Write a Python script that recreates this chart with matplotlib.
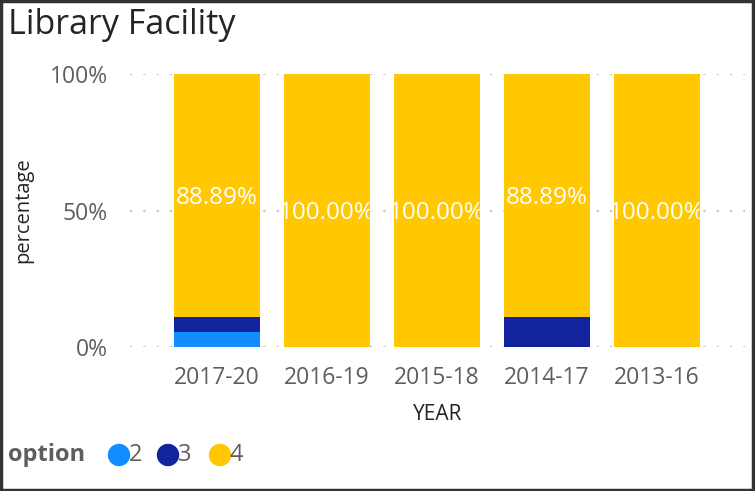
import matplotlib
matplotlib.use("Agg")
import matplotlib.pyplot as plt
from matplotlib.patches import Rectangle, Ellipse

# données (parts en %)
years = ["2017-20", "2016-19", "2015-18", "2014-17", "2013-16"]
opt2 = [5.56, 0, 0, 0, 0]
opt3 = [5.56, 0, 0, 11.11, 0]
opt4 = [88.89, 100.00, 100.00, 88.89, 100.00]
options = ["2", "3", "4"]
colors = ["#118DFF", "#12239E", "#FFC800"]

plt.rcParams["font.family"] = ["Open Sans", "DejaVu Sans"]

fig = plt.figure(figsize=(7.55, 4.91), dpi=100)
ax = fig.add_axes([130 / 755, 1 - 347 / 491, 615 / 755, 273 / 491])

x = list(range(len(years)))
w = 0.78
bottom = [0.0] * len(years)
for serie, col in zip([opt2, opt3, opt4], colors):
    bars = ax.bar(x, [v / 100 for v in serie], w, bottom=[b / 100 for b in bottom],
                  color=col, zorder=3)
    if serie is opt4:
        for i, (b, v) in enumerate(zip(bars, serie)):
            t = ax.text(i, (bottom[i] + v / 2) / 100 - 0.01, f"{v:.2f}%", ha="center",
                        va="center", color="white", fontsize=17.5, zorder=4)
            t.set_clip_path(b)
    bottom = [b + v for b, v in zip(bottom, serie)]

ax.set_xlim(-87 / 110, 528 / 110)
ax.set_ylim(0, 1)
ax.set_yticks([0, 0.5, 1])
ax.set_yticklabels(["0%", "50%", "100%"])
ax.set_xticks(x)
ax.set_xticklabels(years)
ax.tick_params(axis="both", length=0, labelsize=16.5, labelcolor="#605E5C")
ax.tick_params(axis="y", pad=16)
ax.tick_params(axis="x", pad=14)
ax.grid(axis="y", color="#C8C6C4", linestyle=(0, (1, 5)), linewidth=1.6, zorder=1)
for s in ax.spines.values():
    s.set_visible(False)

ax.set_xlabel("YEAR", fontsize=15, color="#252423", labelpad=10)
ax.set_ylabel("percentage", fontsize=14.5, color="#252423", labelpad=12)

fig.text(8 / 755, 1 - 25 / 491, "Library Facility", fontsize=24.5, color="#252423",
         va="center", ha="left")

# légende
fig.text(8 / 755, 1 - 455 / 491, "option", fontsize=17, fontweight="bold",
         color="#605E5C", va="center", ha="left")
for xc, lab, col in zip([119, 168, 220], options, colors):
    fig.patches.append(Ellipse((xc / 755, 1 - 455 / 491), 21 / 755, 21 / 491, color=col,
                               transform=fig.transFigure, figure=fig))
    fig.text((xc + 10) / 755, 1 - 455 / 491, lab, fontsize=17, color="#605E5C",
             va="center", ha="left")

# cadre
fig.patches.append(Rectangle((0.001, 0.002), 0.996, 0.995, transform=fig.transFigure,
                             fill=False, edgecolor="#333333", linewidth=2.5, figure=fig))

plt.savefig("out.png", dpi=100)
